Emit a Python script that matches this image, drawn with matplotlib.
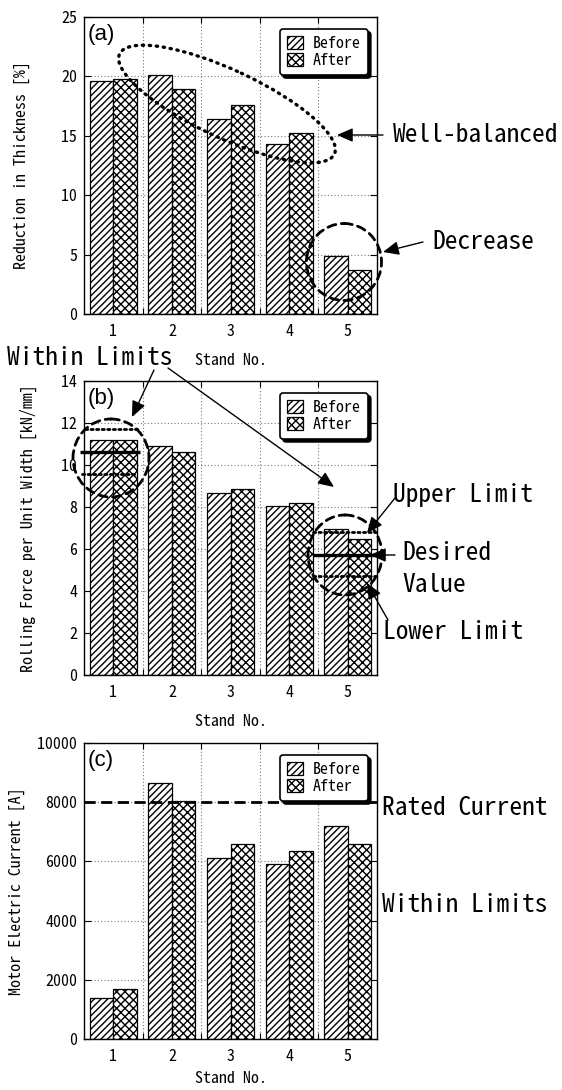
import matplotlib
matplotlib.use("Agg")
import matplotlib.pyplot as plt
import numpy as np
from matplotlib import font_manager
from matplotlib.patches import Ellipse, FancyArrowPatch
from matplotlib.transforms import Affine2D

# ---- data -------------------------------------------------------------
stands = [1, 2, 3, 4, 5]
stand_labels = ["1", "2", "3", "4", "5"]
series_labels = ["Before", "After"]

reduction_before = [19.6, 20.1, 16.4, 14.3, 4.9]
reduction_after = [19.8, 18.9, 17.6, 15.2, 3.7]

force_before = [11.2, 10.9, 8.65, 8.05, 6.97]
force_after = [11.2, 10.6, 8.85, 8.2, 6.48]

current_before = [1400, 8650, 6100, 5900, 7200]
current_after = [1700, 8030, 6600, 6350, 6600]

# force limits (upper, desired, lower) at stand 1 and stand 5
force_limits_stand1 = [11.7, 10.6, 9.55]
force_limits_stand5 = [6.8, 5.7, 4.7]
rated_current = 8000

reduction_ticks = [0, 5, 10, 15, 20, 25]
force_ticks = [0, 2, 4, 6, 8, 10, 12, 14]
current_ticks = [0, 2000, 4000, 6000, 8000, 10000]

# ---- fonts ------------------------------------------------------------
def first_available(names):
    for n in names:
        try:
            font_manager.findfont(font_manager.FontProperties(family=n),
                                  fallback_to_default=False)
            return n
        except ValueError:
            continue
    return "DejaVu Sans Mono"

face = first_available(["Noto Sans Mono CJK JP", "Liberation Sans Narrow",
                        "DejaVu Sans Mono"])
size_table = {"Noto Sans Mono CJK JP": (11.5, 18.3),
              "Liberation Sans Narrow": (12.0, 20.5),
              "DejaVu Sans Mono": (10.0, 15.0)}
SMALL, BIG = size_table[face]

plt.rcParams["font.family"] = [face, "DejaVu Sans"]
plt.rcParams["hatch.linewidth"] = 1.0
plt.rcParams["hatch.color"] = "black"

W, H = 562, 1090
fig = plt.figure(figsize=(W / 100, H / 100), dpi=100)
fig.patch.set_facecolor("white")

# pixel frame measured from the top-left corner of the figure
px = Affine2D().scale(1 / W, -1 / H).translate(0, 1) + fig.transFigure

left, width = 84 / W, 293 / W
ax_a = fig.add_axes([left, (H - 314) / H, width, 297 / H])
ax_b = fig.add_axes([left, (H - 675) / H, width, 294 / H])
ax_c = fig.add_axes([left, (H - 1039) / H, width, 296 / H])


def draw_panel(ax, before, after, ticks, tag, ylabel, label_x, xpad):
    x = np.array(stands, dtype=float)
    w = 0.4
    ax.bar(x - w / 2, before, w, facecolor="white", edgecolor="black",
           hatch="/////", linewidth=0.9, label=series_labels[0], zorder=2)
    ax.bar(x + w / 2, after, w, facecolor="white", edgecolor="black",
           hatch="xxxx", linewidth=0.9, label=series_labels[1], zorder=2)
    ax.set_xlim(0.5, 5.5)
    ax.set_ylim(ticks[0], ticks[-1])
    ax.set_yticks(ticks)
    ax.set_yticklabels([str(t) for t in ticks], fontsize=SMALL)
    ax.set_xticks(x)
    ax.set_xticklabels(stand_labels, fontsize=SMALL)
    ax.set_xticks(x[:-1] + 0.5, minor=True)
    ax.tick_params(axis="x", which="major", length=0, pad=7)
    ax.tick_params(axis="x", which="minor", direction="in", top=True,
                   bottom=True, length=4, width=0.8)
    ax.tick_params(axis="y", direction="in", left=True, right=True,
                   length=5, width=0.8, pad=5)
    ax.grid(True, axis="y", which="major", linestyle=(0, (1, 2)),
            color="#777777", linewidth=0.8)
    ax.grid(True, axis="x", which="minor", linestyle=(0, (1, 2)),
            color="#777777", linewidth=0.8)
    ax.set_axisbelow(True)
    for sp in ax.spines.values():
        sp.set_linewidth(1.0)
    ax.set_xlabel("Stand No.", fontsize=SMALL, labelpad=xpad)
    ax.set_ylabel(ylabel, fontsize=SMALL)
    ax.yaxis.set_label_coords(label_x, 0.5)
    ax.text(0.014, 0.94, tag, transform=ax.transAxes, ha="left", va="center",
            fontsize=16, family=["Liberation Sans", "DejaVu Sans"])
    leg = ax.legend(loc="upper right",
                    bbox_to_anchor=(1 - 9 / 293, 1 - 12 / 297),
                    borderaxespad=0, fontsize=SMALL, frameon=True,
                    fancybox=True, framealpha=1,
                    shadow={"color": "black", "alpha": 1},
                    handlelength=1.0, handleheight=0.9, handletextpad=0.6,
                    labelspacing=0.1, borderpad=0.45)
    frame = leg.get_frame()
    frame.set_edgecolor("black")
    frame.set_linewidth(1.2)
    return ax


draw_panel(ax_a, reduction_before, reduction_after, reduction_ticks, "(a)",
           "Reduction in Thickness [%]", -0.185, 10)
draw_panel(ax_b, force_before, force_after, force_ticks, "(b)",
           "Rolling Force per Unit Width [kN/mm]", -0.160, 10)
draw_panel(ax_c, current_before, current_after, current_ticks, "(c)",
           "Motor Electric Current [A]", -0.201, 5)

# ---- limit lines in panel (b) -------------------------------------------
dot = (0, (0.8, 1.2))
spans1 = [(-0.48, 0.42), (-0.57, 0.46), (-0.53, 0.40)]
spans5 = [(-0.59, 0.5), (-0.59, 0.5), (-0.59, 0.5)]
for limits, spans, s in ((force_limits_stand1, spans1, stands[0]),
                         (force_limits_stand5, spans5, stands[4])):
    for k, (val, (a0, a1)) in enumerate(zip(limits, spans)):
        style = "-" if k == 1 else dot
        lw = 2.4 if k == 1 else 2.0
        ax_b.plot([s + a0, s + a1], [val, val], color="black", lw=lw,
                  linestyle=style, solid_capstyle="butt",
                  dash_capstyle="round", zorder=6, clip_on=False)

# ---- rated current in panel (c) ------------------------------------------
ax_c.axhline(rated_current, color="black", lw=2.0, linestyle=(0, (4, 2)),
             zorder=6)

# ---- annotations ---------------------------------------------------------
def note(x, y, s):
    fig.text(x, y, s, transform=px, ha="left", va="center", fontsize=BIG)


def arrow(tail, head):
    fig.add_artist(FancyArrowPatch(
        tail, head, transform=px,
        arrowstyle="-|>,head_length=0.8,head_width=0.35",
        mutation_scale=12, lw=1.0, color="black", shrinkA=0, shrinkB=0))


def ring(cx, cy, w, h, angle=0, style=(0, (3, 2)), lw=2.0):
    e = Ellipse((cx, cy), w, h, angle=angle, transform=px, fill=False,
                edgecolor="black", linestyle=style, linewidth=lw)
    e.set_capstyle("round")
    fig.add_artist(e)


# panel (a)
ring(227, 104, 237, 68, angle=25, style=(0, (0.4, 1.7)), lw=2.4)
note(393, 135, "Well-balanced")
arrow((383, 135), (337, 135))
ring(344, 262, 75, 77)
note(432, 242, "Decrease")
arrow((423, 242), (383, 252))

# panel (b)
note(7, 358, "Within Limits")
arrow((154, 370), (132, 417))
arrow((168, 368), (334, 487))
ring(111, 458, 76, 78)
ring(345, 555, 74, 80)
note(393, 495, "Upper Limit")
arrow((395, 498), (367, 533))
note(402, 553, "Desired")
note(402, 585, "Value")
arrow((395, 555), (370, 555))
note(383, 632, "Lower Limit")
arrow((388, 620), (367, 583))

# panel (c)
note(382, 808, "Rated Current")
note(382, 905, "Within Limits")

fig.savefig("out.png", dpi=100, facecolor="white")
